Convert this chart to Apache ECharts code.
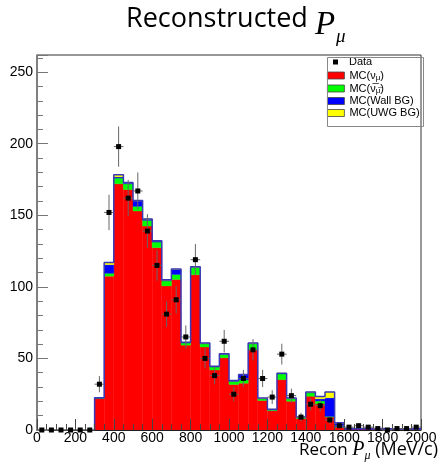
<!DOCTYPE html>
<html>
<head>
<meta charset="utf-8">
<script src="https://cdn.jsdelivr.net/npm/echarts@6.0.0/dist/echarts.min.js"></script>
<style>
html, body { margin: 0; padding: 0; background: #fff; }
#main { width: 439px; height: 472px; }
</style>
</head>
<body>
<div id="main"></div>
<script>
// bin low edges, 50 MeV/c wide, 0..1950
var binWidth = 50;
var binEdges = [];
for (var b = 0; b < 40; b++) binEdges.push(b * binWidth);

// MC stack components (events per bin)
var mcNumu = [0, 0, 0, 0, 0, 0, 22, 107.5, 172, 168,
              153, 142.5, 127.4, 100.7, 105.2, 59.3, 108.5, 58, 42, 50.5,
              31.8, 32.7, 56, 20.6, 13.5, 35.2, 20.1, 8, 23.6, 18.3,
              9, 2, 0.5, 0.5, 0.5, 0.4, 0.3, 0.3, 0.3, 0.3];
var mcNumubar = [0, 0, 0, 0, 0, 0, 0.3, 2, 4, 4,
                 3.3, 4, 3.9, 3.5, 3.5, 1.5, 5, 2.3, 2, 2.3,
                 2.2, 2.4, 4.3, 1.2, 0.5, 4, 1.7, 0.5, 2.4, 2,
                 0.5, 0.3, 0, 0, 0, 0, 0, 0, 0, 0];
var mcWallBg = [0, 0, 0, 0, 0, 0, 0.3, 6, 0.8, 0.6,
                3.7, 0.8, 0.8, 0.5, 3.5, 0.3, 0.3, 0.3, 0.3, 0.3,
                0.3, 3.5, 0.3, 0.3, 0.3, 0.3, 0.3, 0.3, 0.3, 1.5,
                13, 2.5, 0.5, 0.5, 0.5, 0.5, 0.5, 0.5, 0.5, 0.5];
var mcUwgBg = [0, 0, 0, 0, 0, 0, 0, 1.5, 1.5, 0.3,
               0.3, 0.2, 0.2, 0.2, 0.2, 0.2, 0.2, 0.2, 0.2, 0.2,
               0.2, 0.2, 0.2, 0.2, 0.2, 0.2, 0.2, 0.2, 0.2, 1.6,
               4, 0.2, 0.1, 0.1, 0.1, 0.1, 0.1, 0.1, 0.1, 0.1];

// data counts per bin
var dataCounts = [0, 0, 0, 0, 0, 0, 32, 152, 198, 162,
                  167, 139, 115, 81, 91, 65, 119, 50, 38, 62,
                  25, 36, 56, 36, 23, 53, 24, 9, 18, 17,
                  7, 3, 2, 3, 2, 1, 0, 1, 1, 2];

var yTicks = [0, 50, 100, 150, 200, 250];

var components = [
    { name: 'MC(numu)', vals: mcNumu, color: '#ff0000' },
    { name: 'MC(numubar)', vals: mcNumubar, color: '#00ff00' },
    { name: 'MC(Wall BG)', vals: mcWallBg, color: '#0000ff' },
    { name: 'MC(UWG BG)', vals: mcUwgBg, color: '#ffff00' }
];

var series = [];
var base = binEdges.map(function() { return 0; });
components.forEach(function(c) {
    var rows = [];
    for (var i = 0; i < binEdges.length; i++) {
        rows.push([binEdges[i], binEdges[i] + binWidth, base[i], base[i] + c.vals[i]]);
        base[i] += c.vals[i];
    }
    series.push({
        name: c.name,
        type: 'custom',
        z: 2,
        itemStyle: { color: c.color },
        encode: { x: [0, 1], y: [2, 3] },
        data: rows,
        renderItem: function(params, api) {
            if (api.value(3) - api.value(2) <= 0) return null;
            var p0 = api.coord([api.value(0), api.value(2)]);
            var p1 = api.coord([api.value(1), api.value(3)]);
            return {
                type: 'rect',
                shape: { x: p0[0], y: p1[1], width: p1[0] - p0[0], height: p0[1] - p1[1] },
                style: { fill: c.color, stroke: c.color, lineWidth: 0.4 }
            };
        }
    });
});

// outline of the stacked total
var outline = [[300, 0]];
for (var i = 6; i < binEdges.length; i++) outline.push([binEdges[i], base[i]]);
outline.push([2000, base[base.length - 1]]);
series.push({
    name: 'outline',
    type: 'line',
    step: 'end',
    z: 3,
    symbol: 'none',
    silent: true,
    lineStyle: { color: '#3838b8', width: 1.5 },
    data: outline
});

var dataRows = [];
for (var i = 0; i < binEdges.length; i++) {
    dataRows.push([binEdges[i] + binWidth / 2, dataCounts[i], Math.sqrt(dataCounts[i])]);
}
series.push({
    name: 'Data',
    type: 'custom',
    z: 20,
    itemStyle: { color: '#000' },
    encode: { x: 0, y: 1 },
    data: dataRows,
    renderItem: function(params, api) {
        var x = api.value(0), n = api.value(1), e = api.value(2);
        var c = api.coord([x, n]);
        var l = api.coord([x - binWidth / 2, n]);
        var r = api.coord([x + binWidth / 2, n]);
        var kids = [{
            type: 'line',
            shape: { x1: l[0], y1: c[1], x2: r[0], y2: c[1] },
            style: { stroke: '#666', lineWidth: 1 }
        }];
        if (n > 0) {
            var lo = api.coord([x, Math.max(n - e, 0)]);
            var hi = api.coord([x, n + e]);
            kids.push({
                type: 'line',
                shape: { x1: c[0], y1: lo[1], x2: c[0], y2: hi[1] },
                style: { stroke: '#666', lineWidth: 1 }
            });
        }
        kids.push({
            type: 'rect',
            shape: { x: c[0] - 2.5, y: c[1] - 2.5, width: 5, height: 5 },
            style: { fill: '#000' }
        });
        return { type: 'group', children: kids };
    }
});

var legendNames = {
    'Data': 'Data',
    'MC(numu)': 'MC(ν{s|μ})',
    'MC(numubar)': 'MC(ν̅{s|μ̅})',
    'MC(Wall BG)': 'MC(Wall BG)',
    'MC(UWG BG)': 'MC(UWG BG)'
};
var legendText = {
    fontFamily: 'Liberation Sans',
    fontSize: 11,
    lineHeight: 12,
    color: '#000',
    rich: { s: { fontFamily: 'Liberation Sans', fontSize: 8, lineHeight: 12, padding: [5, 0, 0, 0] } }
};

var chart = echarts.init(document.getElementById('main'));
chart.setOption({
    animation: false,
    title: {
        text: '{a|Reconstructed }{p|P}{s|μ}',
        left: 121,
        top: -12,
        textStyle: {
            rich: {
                a: { fontFamily: 'Open Sans', fontWeight: 'normal', fontSize: 27, color: '#000' },
                p: { fontFamily: 'Liberation Serif', fontWeight: 'normal', fontStyle: 'italic', fontSize: 33, color: '#000', padding: [11, 0, 0, 0] },
                s: { fontFamily: 'Liberation Serif', fontWeight: 'normal', fontStyle: 'italic', fontSize: 19, color: '#000', padding: [34, 0, 0, 1] }
            }
        }
    },
    grid: {
        left: 37, right: 18, top: 55, bottom: 42,
        containLabel: false,
        outerBoundsMode: 'none',
        show: true, borderColor: '#333', borderWidth: 1, backgroundColor: 'transparent'
    },
    legend: [{
        selectedMode: false,
        orient: 'vertical',
        left: 333, top: 56,
        padding: 0,
        itemWidth: 5, itemHeight: 5,
        icon: 'rect',
        data: [{ name: 'Data', itemStyle: { color: '#000' } }],
        formatter: function(n) { return legendNames[n]; },
        textStyle: Object.assign({ padding: [0, 0, 0, 6] }, legendText)
    }, {
        selectedMode: false,
        orient: 'vertical',
        left: 327, top: 69,
        padding: 0,
        itemWidth: 17, itemHeight: 7,
        itemGap: 0,
        icon: 'rect',
        data: components.map(function(c) {
            return { name: c.name, itemStyle: { color: c.color, borderColor: '#444', borderWidth: 0.8 } };
        }),
        formatter: function(n) { return legendNames[n]; },
        textStyle: legendText
    }],
    graphic: [{
        type: 'rect',
        left: 325, top: 55,
        shape: { width: 96, height: 69 },
        style: { fill: 'none', stroke: '#888', lineWidth: 1 },
        z: 5
    }, {
        type: 'text',
        right: 1, top: 440,
        style: {
            text: '{a|Recon }{p|P}{s|μ}{m| (MeV/c)}',
            rich: {
                a: { fontFamily: 'Open Sans', fontSize: 17, fill: '#000' },
                m: { fontFamily: 'Open Sans', fontSize: 18, fill: '#000' },
                p: { fontFamily: 'Liberation Serif', fontStyle: 'italic', fontSize: 20, fill: '#000' },
                s: { fontFamily: 'Liberation Serif', fontStyle: 'italic', fontSize: 12, fill: '#000', padding: [12, 0, 0, 0] }
            }
        }
    }],
    xAxis: {
        type: 'value',
        min: 0, max: 2000, interval: 200,
        z: 10,
        axisLine: { lineStyle: { color: '#222', width: 1 } },
        axisTick: { inside: true, length: 11, lineStyle: { color: '#444' } },
        minorTick: { show: true, splitNumber: 4, length: 6, lineStyle: { color: '#444' } },
        splitLine: { show: false },
        axisLabel: {
            fontFamily: 'Liberation Sans', fontSize: 14, color: '#000', margin: 1,
            formatter: function(v) { return String(v); }
        }
    },
    yAxis: {
        type: 'value',
        min: 0, max: 262, interval: 50,
        z: 10,
        axisLine: { show: true, lineStyle: { color: '#777', width: 1.5 } },
        axisTick: { inside: true, length: 11, lineStyle: { color: '#777' } },
        minorTick: { show: true, splitNumber: 5, length: 6, lineStyle: { color: '#777' } },
        splitLine: { show: false },
        axisLabel: {
            fontFamily: 'Liberation Sans', fontSize: 14, color: '#000', margin: 4,
            showMaxLabel: false,
            formatter: function(v) { return yTicks.indexOf(v) >= 0 ? String(v) : ''; }
        }
    },
    series: series
});
</script>
</body>
</html>
